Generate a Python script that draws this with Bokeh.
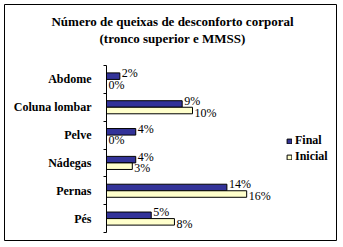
import numpy as np
from bokeh.plotting import figure
from bokeh.models import (Range1d, LinearAxis, FixedTicker, Label,
                          ColumnDataSource, Legend, LegendItem)
from bokeh.core.properties import value
from bokeh.embed import file_html
from bokeh.resources import INLINE

categories = ["Abdome", "Coluna lombar", "Pelve", "Nádegas", "Pernas", "Pés"]
final_vals = [1.55, 8.8, 3.4, 3.4, 14.0, 5.2]
inicial_vals = [0.0, 10.0, 0.0, 3.0, 16.3, 7.9]
final_labels = ["2%", "9%", "4%", "4%", "14%", "5%"]
inicial_labels = ["0%", "10%", "0%", "3%", "16%", "8%"]
series_names = ["Final", "Inicial"]
title_lines = ["Número de queixas de desconforto corporal", "(tronco superior e MMSS)"]

FONT = "Liberation Serif"
W, H = 343, 247
# layout (canvas pixels): chart-area box, and the plot area inside it
BOX_L, BOX_R, BOX_T, BOX_B = 4, 336, 4, 240
AX_X, PA_T, PA_B = 106, 65, 232
PX_PER_PCT = 8.6

n = len(categories)
ypos = (np.arange(n)[::-1] + 0.5).tolist()   # category centres, first at top
bounds = list(range(n + 1))                  # category boundaries
bh = 0.235
px_per_cat = (PA_B - PA_T) / n

def xdata(px):
    return (px - AX_X) / PX_PER_PCT

def ydata(py):
    return (PA_B - py) / px_per_cat

src = ColumnDataSource(dict(y=ypos, final=final_vals, inicial=inicial_vals,
                            fl=final_labels, il=inicial_labels,
                            yf=[y + bh / 2 for y in ypos], yi=[y - bh / 2 for y in ypos]))

p = figure(width=W, height=H, output_backend="svg", toolbar_location=None,
           x_range=Range1d(xdata(BOX_L), xdata(BOX_R)),
           y_range=Range1d(ydata(BOX_B), ydata(BOX_T)),
           x_axis_location=None, y_axis_location=None,
           min_border_left=BOX_L, min_border_right=W - BOX_R,
           min_border_top=BOX_T, min_border_bottom=H - BOX_B)
p.outline_line_color = "black"
p.outline_line_width = 1
p.xgrid.visible = False
p.ygrid.visible = False
p.background_fill_color = "white"
p.border_fill_color = "white"

# category axis fixed at x = 0: names at centres, tick marks at boundaries (minor ticks)
cat_axis = LinearAxis(fixed_location=0, bounds=(0, n),
                      ticker=FixedTicker(ticks=ypos, minor_ticks=bounds),
                      major_label_overrides={y: c for y, c in zip(ypos, categories)},
                      axis_line_color="black", axis_line_width=1,
                      major_tick_line_color=None, major_tick_out=0, major_tick_in=0,
                      minor_tick_line_color="black", minor_tick_out=3, minor_tick_in=0,
                      major_label_standoff=12,
                      major_label_text_font=FONT, major_label_text_font_style="bold",
                      major_label_text_font_size="12px", major_label_text_color="black")
p.add_layout(cat_axis, "left")

rf = p.hbar(y="yf", right="final", height=bh, left=0,
            source=src, fill_color="#333399", line_color="black", line_width=1)
ri = p.hbar(y="yi", right="inicial", height=bh, left=0,
            source=src, fill_color="#FFFFCC", line_color="black", line_width=1)

p.text(x="final", y="yf", text="fl", source=src,
       x_offset=2, y_offset=-3, text_baseline="middle", text_align="left",
       text_font=value(FONT), text_font_size="12px", text_color="black")
p.text(x="inicial", y="yi", text="il", source=src,
       x_offset=2, y_offset=2, text_baseline="middle", text_align="left",
       text_font=value(FONT), text_font_size="12px", text_color="black")

legend = Legend(items=[LegendItem(label=series_names[0], renderers=[rf]),
                       LegendItem(label=series_names[1], renderers=[ri])],
                location=(282, 76), orientation="vertical",
                glyph_width=6, glyph_height=6, label_height=12, spacing=1, padding=0, margin=0,
                label_standoff=3, border_line_color=None, background_fill_alpha=0,
                label_text_font=FONT, label_text_font_style="bold", label_text_font_size="12px",
                label_text_color="black")
p.add_layout(legend)

for line, cy in zip(title_lines, [21, 38]):
    p.add_layout(Label(x=xdata(172), y=ydata(cy), text=line,
                       text_align="center", text_baseline="middle", text_font=FONT,
                       text_font_style="bold", text_font_size="13px", text_color="black"))

open("out.html", "w").write(file_html(p, INLINE))
